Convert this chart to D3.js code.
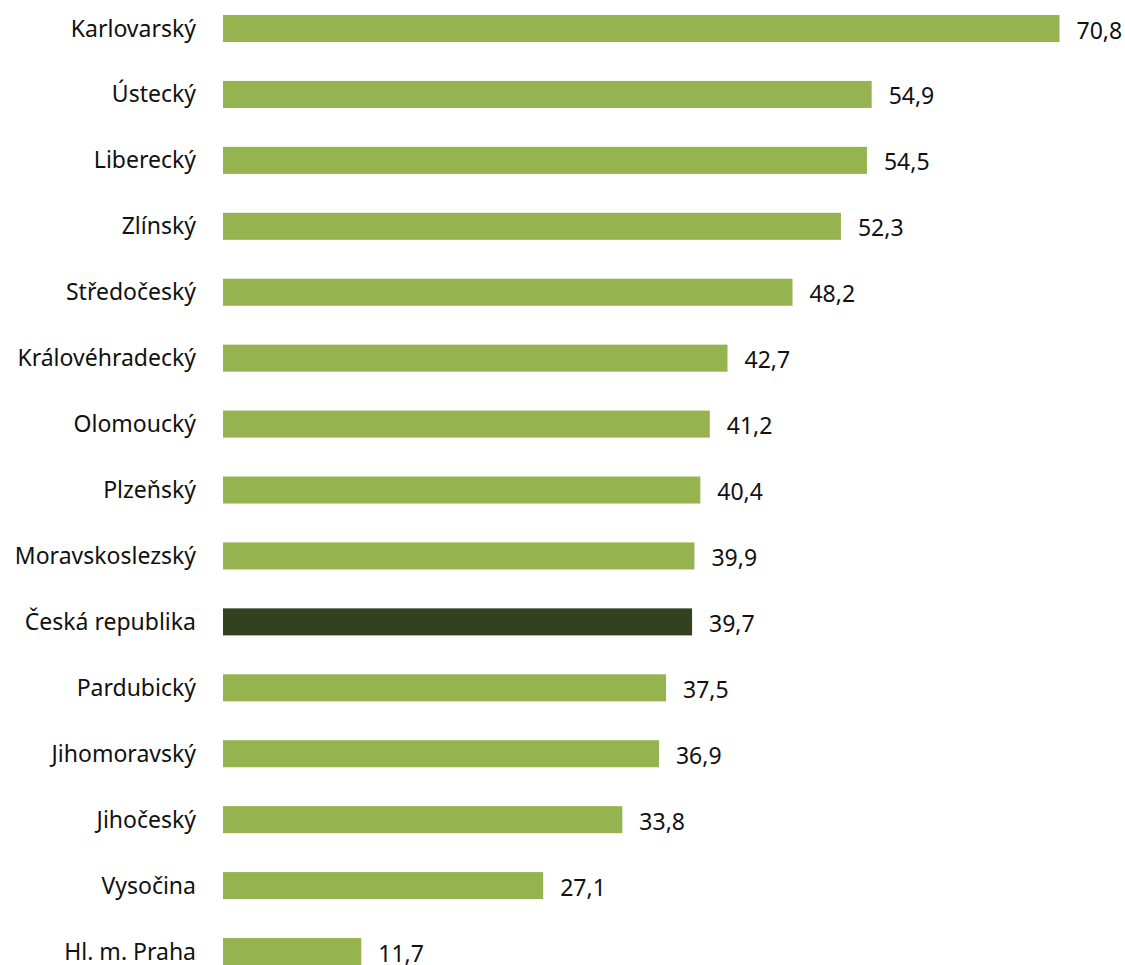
<!DOCTYPE html>
<html>
<head>
<meta charset="utf-8">
<script src="https://cdn.jsdelivr.net/npm/d3@7"></script>
<style>
	body { margin: 0; background: #fff; }
	text { font-family: "Noto Sans", "Open Sans", sans-serif; fill: #111; }
</style>
</head>
<body>
<script>
var regions = ['Karlovarský', 'Ústecký', 'Liberecký', 'Zlínský', 'Středočeský', 'Královéhradecký',
	'Olomoucký', 'Plzeňský', 'Moravskoslezský', 'Česká republika', 'Pardubický', 'Jihomoravský',
	'Jihočeský', 'Vysočina', 'Hl. m. Praha'];
var values = [70.8, 54.9, 54.5, 52.3, 48.2, 42.7, 41.2, 40.4, 39.9, 39.7, 37.5, 36.9, 33.8, 27.1, 11.7];
var highlight = 'Česká republika';

var width = 1125, height = 965;

var data = regions.map(function (r, i) { return { name: r, value: values[i] }; });

var svg = d3.select('body').append('svg')
	.attr('width', width)
	.attr('height', height);

var x = d3.scaleLinear().domain([0, 80]).range([223, 223 + 80 * 11.815]);
var y = d3.scaleBand().domain(regions).range([-4.45, 984.5]).paddingInner(0.59).paddingOuter(0.295);

// bars
svg.selectAll('.bar').data(data).enter().append('rect')
	.attr('class', 'bar')
	.attr('x', x(0))
	.attr('y', function (d) { return y(d.name); })
	.attr('width', function (d) { return x(d.value) - x(0); })
	.attr('height', y.bandwidth())
	.attr('fill', function (d) { return d.name === highlight ? '#33411f' : '#95b34e'; });

// category labels
svg.selectAll('.label').data(data).enter().append('text')
	.attr('class', 'label')
	.attr('x', 196)
	.attr('y', function (d) { return y(d.name) + y.bandwidth() / 2 + 8; })
	.attr('text-anchor', 'end')
	.style('font-size', '23px')
	.text(function (d) { return d.name; });

// value labels
svg.selectAll('.value').data(data).enter().append('text')
	.attr('class', 'value')
	.attr('x', function (d) { return x(d.value) + 17; })
	.attr('y', function (d) { return y(d.name) + y.bandwidth() / 2 + 10; })
	.style('font-size', '23px')
	.text(function (d) { return d3.format('.1f')(d.value).replace('.', ','); });
</script>
</body>
</html>
